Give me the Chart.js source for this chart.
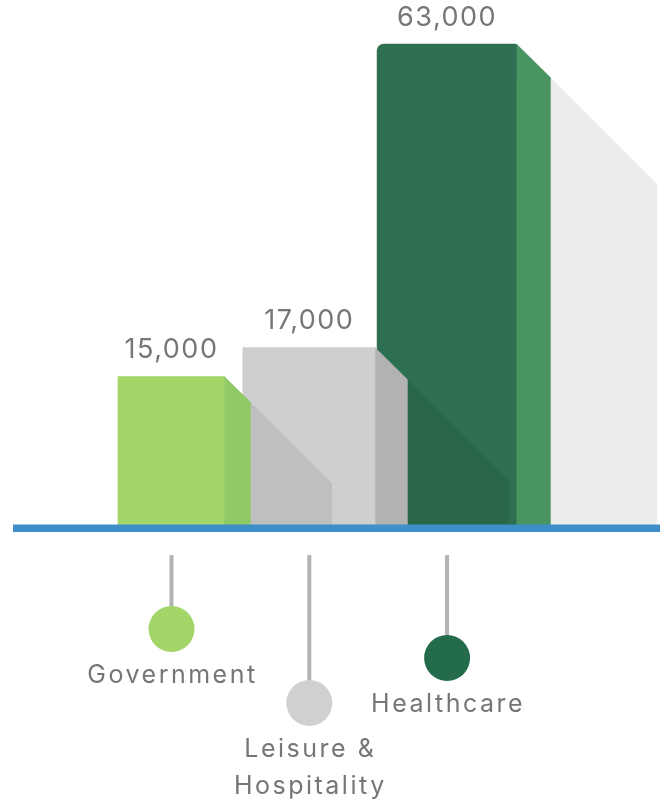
<!DOCTYPE html>
<html>
<head>
<meta charset="utf-8">
<script src="https://cdn.jsdelivr.net/npm/chart.js@4.4.1/dist/chart.umd.min.js"></script>
<style>
  html, body { margin: 0; padding: 0; background: #ffffff; }
  #wrap { width: 665px; height: 805px; position: relative; }
</style>
</head>
<body>
<div id="wrap"><canvas id="chart" width="665" height="805"></canvas></div>
<script>
// ---- data ----
const categories = ['Government', 'Leisure & Hospitality', 'Healthcare'];
const categoryLabelLines = [['Government'], ['Leisure &', 'Hospitality'], ['Healthcare']];
const jobs = [15000, 17000, 63000];

// ---- styles ----
const frontColors = ['#a3d569', '#cfcfcf', '#2d6f50'];
const sideColors  = ['#8fca66', '#b2b2b2', '#4a9462'];
const dotColors   = ['#a3d569', '#d0d0d0', '#236b4a'];
const barWidths   = [107, 133, 140];
const calloutDrop = [101, 175, 130];

const textColor = '#767676';
const baselineColor = '#3d8ec9';

const depthPlugin = {
  id: 'depth',
  beforeDatasetDraw(chart, args, opts) {
    const ctx = chart.ctx;
    const el = args.meta.data[args.index];
    if (!el) return;
    const p = el.getProps(['x', 'y', 'base', 'width'], true);
    const right = p.x + p.width / 2;
    const d = p.width * opts.sideRatio;
    const s = p.width * opts.shadowRatio;
    ctx.save();
    ctx.fillStyle = 'rgba(0,0,0,0.075)';
    ctx.beginPath();
    ctx.moveTo(right, p.y);
    ctx.lineTo(right + d + s, p.y + d + s);
    ctx.lineTo(right + d + s, p.base);
    ctx.lineTo(right, p.base);
    ctx.closePath();
    ctx.fill();
    ctx.restore();
  },
  afterDatasetDraw(chart, args, opts) {
    const ctx = chart.ctx;
    const el = args.meta.data[args.index];
    if (!el) return;
    const p = el.getProps(['x', 'y', 'base', 'width'], true);
    const right = p.x + p.width / 2;
    const d = p.width * opts.sideRatio;
    ctx.save();
    ctx.fillStyle = sideColors[args.index];
    ctx.beginPath();
    ctx.moveTo(right - 0.5, p.y);
    ctx.lineTo(right + d, p.y + d);
    ctx.lineTo(right + d, p.base);
    ctx.lineTo(right - 0.5, p.base);
    ctx.closePath();
    ctx.fill();
    ctx.restore();
  },
  afterDatasetsDraw(chart, args, opts) {
    const ctx = chart.ctx;
    const area = chart.chartArea;
    const baseY = area.bottom;
    // baseline
    ctx.save();
    ctx.fillStyle = baselineColor;
    ctx.fillRect(13, baseY - 3.5, chart.width - 18, 7.5);
    ctx.restore();

    chart.data.datasets.forEach((ds, i) => {
      const el = chart.getDatasetMeta(i).data[i];
      if (!el) return;
      const p = el.getProps(['x', 'y', 'base', 'width'], true);
      // value label
      ctx.save();
      ctx.fillStyle = textColor;
      ctx.font = '400 27px Inter';
      ctx.letterSpacing = '1.5px';
      ctx.textAlign = 'center';
      ctx.textBaseline = 'alphabetic';
      ctx.fillText(jobs[i].toLocaleString('en-US'), p.x, p.y - 18);
      ctx.restore();

      // callout stem + dot
      const cx = p.x;
      const cy = baseY + calloutDrop[i];
      ctx.save();
      ctx.strokeStyle = '#b3b3b3';
      ctx.lineWidth = 4;
      ctx.beginPath();
      ctx.moveTo(cx, baseY + 27);
      ctx.lineTo(cx, cy);
      ctx.stroke();
      ctx.fillStyle = dotColors[i];
      ctx.beginPath();
      ctx.arc(cx, cy, 23, 0, Math.PI * 2);
      ctx.fill();
      // category label
      ctx.fillStyle = textColor;
      ctx.font = '400 25px Inter';
      ctx.letterSpacing = '2.5px';
      ctx.textAlign = 'center';
      ctx.textBaseline = 'middle';
      categoryLabelLines[i].forEach((line, k) => {
        ctx.fillText(line, cx + 1, cy + 46 + k * 37);
      });
      ctx.restore();
    });
  }
};

const datasets = categories.map((name, i) => ({
  label: name,
  data: jobs.map((v, j) => (j === i ? v : null)),
  backgroundColor: frontColors[i],
  barThickness: barWidths[i],
  grouped: false,
  skipNull: true,
  clip: false,
  borderSkipped: false,
  borderRadius: i === 2 ? { topLeft: 7, topRight: 2, bottomLeft: 0, bottomRight: 0 } : 0
}));

new Chart(document.getElementById('chart'), {
  type: 'bar',
  data: { labels: categories, datasets },
  options: {
    responsive: false,
    animation: false,
    devicePixelRatio: 1,
    layout: { padding: { left: 102.6, right: 149, top: 44, bottom: 277 } },
    plugins: {
      legend: { display: false },
      tooltip: { enabled: false },
      depth: { sideRatio: 0.24, shadowRatio: 0.76 }
    },
    scales: {
      x: { type: 'category', display: false, offset: true },
      y: { type: 'logarithmic', display: false, min: 7800, max: 63000 }
    }
  },
  plugins: [depthPlugin]
});
</script>
</body>
</html>
